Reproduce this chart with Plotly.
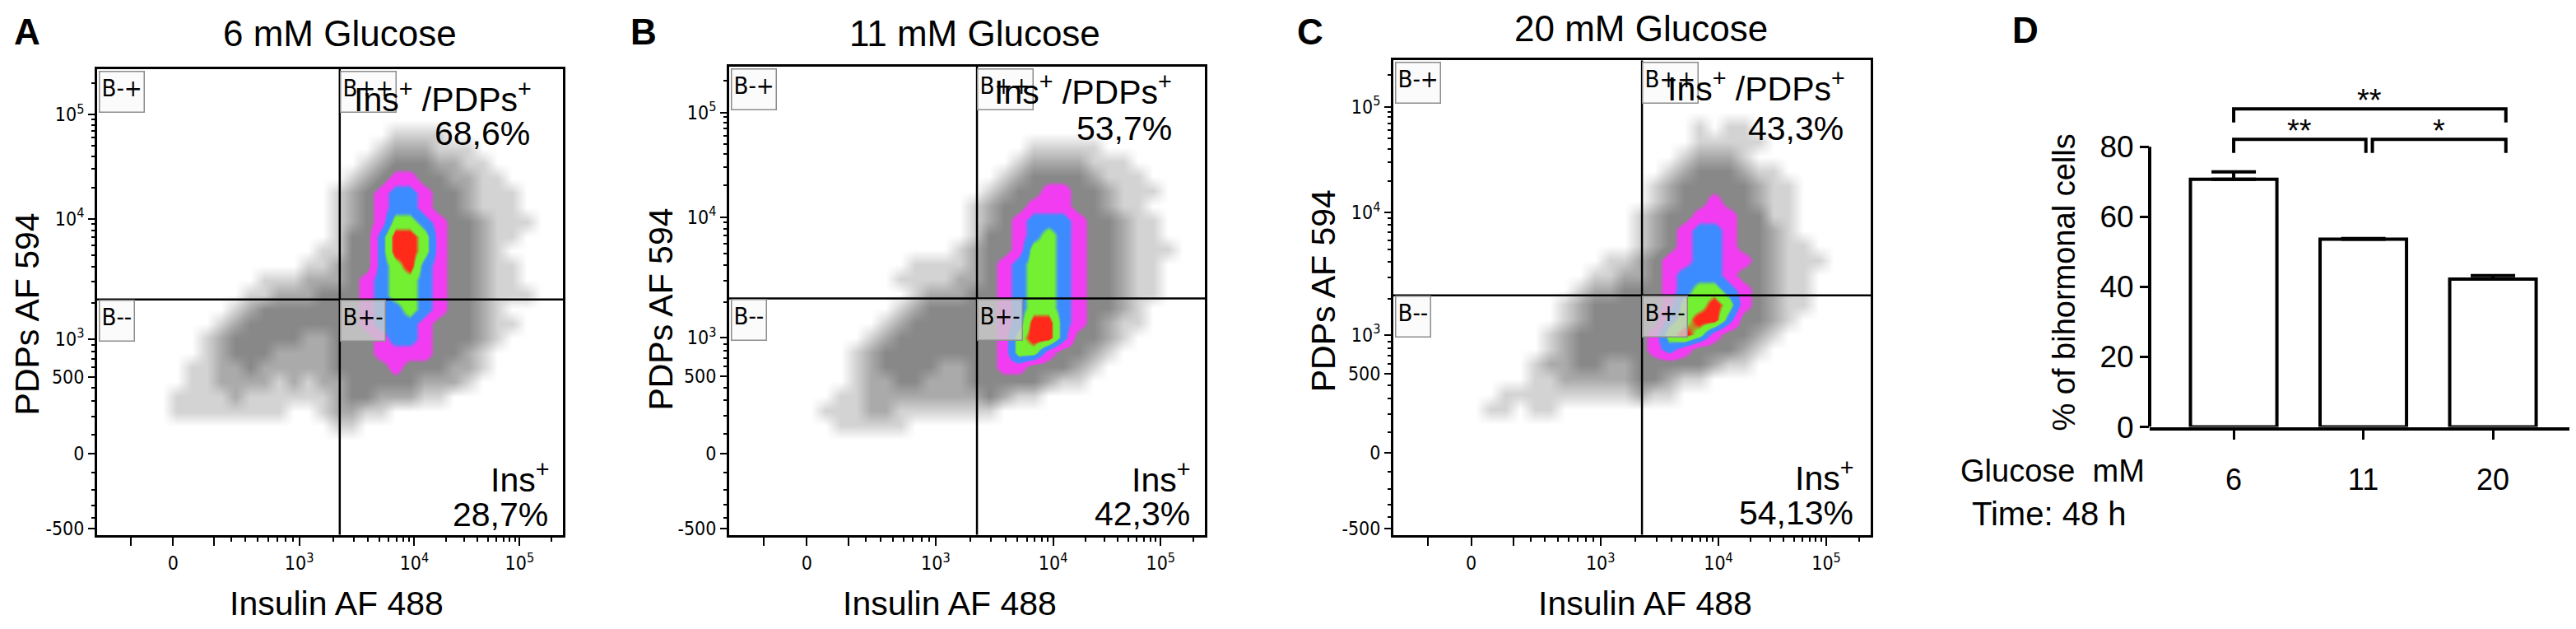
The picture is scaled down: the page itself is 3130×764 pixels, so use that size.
import numpy as np
import plotly.graph_objects as go

W, H = 3130, 764

# ---------------- data ----------------
panel_letters = ["A", "B", "C", "D"]
panel_titles = ["6 mM Glucose", "11 mM Glucose", "20 mM Glucose"]
flow_x_title = "Insulin AF 488"
flow_y_title = "PDPs AF 594"
quadrant_names = ["B-+", "B++", "B--", "B+-"]
upper_right_label = "Ins<sup>+</sup> /PDPs<sup>+</sup>"
lower_right_label = "Ins<sup>+</sup>"
double_positive_pct = ["68,6%", "53,7%", "43,3%"]
insulin_only_pct = ["28,7%", "42,3%", "54,13%"]

# quadrant gates (raw fluorescence units)
gate_insulin = [2270, 2270, 2270]
gate_pdps = [2150, 2135, 2135]

# biexponential axis calibration (value -> fraction of axis length)
x_scale_vals = [-200, 0, 200, 1e3, 1e4, 1e5, 1e6]
x_scale_pos = [0.072, 0.163, 0.251, 0.434, 0.681, 0.907, 1.133]
y_scale_vals = [-500, 0, 500, 1e3, 1e4, 1e5, 1e6]
y_scale_pos = [0.014, 0.174, 0.339, 0.421, 0.679, 0.902, 1.125]

x_major_vals = [-200, 0, 200, 1e3, 1e4, 1e5]
x_major_text = ["", "0", "", "10<sup>3</sup>", "10<sup>4</sup>", "10<sup>5</sup>"]
x_minor_vals = [300, 400, 500, 600, 700, 800, 900,
                2000, 3000, 4000, 5000, 6000, 7000, 8000, 9000,
                20000, 30000, 40000, 50000, 60000, 70000, 80000, 90000, 200000]
y_major_vals = [-500, 0, 500, 1e3, 1e4, 1e5]
y_major_text = ["-500", "0", "500", "10<sup>3</sup>", "10<sup>4</sup>", "10<sup>5</sup>"]
y_minor_vals = [-400, -300, -200, -100, 100, 200, 300, 400, 600, 700, 800, 900,
                2000, 3000, 4000, 5000, 6000, 7000, 8000, 9000,
                20000, 30000, 40000, 50000, 60000, 70000, 80000, 90000, 200000]

# pseudocolour event density on a 32x32 display grid
# (row from bottom, first column, levels: 0 none,1-3 grey,4 magenta,5 blue,6 green,7 red)
density_A = [
    (27, 20, "1111"),
    (26, 19, "1222111"),
    (25, 18, "123332211"),
    (24, 17, "12344332211"),
    (23, 16, "1234554332111"),
    (22, 16, "1234554332111"),
    (21, 16, "12346654332111"),
    (20, 16, "1335776433211"),
    (19, 15, "1133577643321"),
    (18, 14, "112335675433211"),
    (17, 11, "111222345665433211"),
    (16, 10, "11222333456654332111"),
    (15, 9, "1233333334556543321"),
    (14, 8, "123333333345554333211"),
    (13, 7, "123333322333455433321"),
    (12, 7, "12333222233344443321"),
    (11, 6, "112232222233334333221"),
    (10, 6, "11222212122333332221"),
    (9, 5, "1111211111123322211"),
    (8, 5, "111111110012211"),
    (7, 16, "11"),
]
density_B = [
    (26, 20, "11111"),
    (25, 19, "12222111"),
    (24, 18, "1233332111"),
    (23, 17, "123344332111"),
    (22, 16, "123344433211"),
    (21, 16, "1234555433211"),
    (20, 16, "1334565433211"),
    (19, 15, "123346654332111"),
    (18, 12, "11112345665433211"),
    (17, 11, "111122345665433211"),
    (16, 12, "12223345665433211"),
    (15, 11, "12333334566543321"),
    (14, 10, "123333334577543211"),
    (13, 9, "123333333467753321"),
    (12, 8, "123333333346643321"),
    (11, 8, "12333322334433321"),
    (10, 8, "1223322233333211"),
    (9, 7, "11222222223211"),
    (8, 6, "111221111111"),
    (7, 7, "11111"),
]
density_C = [
    (27, 20, "1011"),
    (26, 20, "11111"),
    (25, 19, "12221"),
    (24, 18, "12333211"),
    (23, 17, "1233333211"),
    (22, 17, "1233433211"),
    (21, 16, "12334443311"),
    (20, 16, "12345543321"),
    (19, 16, "123455433211"),
    (18, 14, "112344554432111"),
    (17, 13, "112234555433211"),
    (16, 12, "1223334566543211"),
    (15, 11, "12333334667643211"),
    (14, 11, "1233333567753321"),
    (13, 10, "1233333467643321"),
    (12, 10, "123333345433321"),
    (11, 9, "122332233333211"),
    (10, 9, "112222233211"),
    (9, 7, "111111111211"),
    (8, 6, "11011"),
]
density_grids = [density_A, density_B, density_C]

# bar chart (panel D)
glucose_levels = ["6", "11", "20"]
bihormonal_pct = [70.7, 53.6, 42.2]
bihormonal_sem = [2.1, 0.2, 1.0]
sig_from = [0.0, 0.0, 1.07]
sig_to = [2.1, 1.02, 2.1]
sig_height = [90.8, 82.1, 82.1]
sig_text = ["**", "**", "*"]

# ---------------- styling / layout ----------------
SANS = "Liberation Sans, Arial, sans-serif"
NARROW = "Liberation Sans Narrow, DejaVu Sans Condensed, sans-serif"
N = 32
GREY1, GREY2, GREY3 = "#d3d3d3", "#aaaaaa", "#888888"
MAG, BLUE, GREEN, RED = "#f23cf2", "#3c8cff", "#74f032", "#ff2a1a"
# grey shades blend smoothly; pseudocolour levels are near-stepped bands
colorscale = [
    [0 / 7, "#ffffff"], [1 / 7, GREY1], [2 / 7, GREY2], [3 / 7, GREY3],
    [3.35 / 7, GREY3], [3.65 / 7, MAG], [4.35 / 7, MAG], [4.65 / 7, BLUE],
    [5.35 / 7, BLUE], [5.65 / 7, GREEN], [6.35 / 7, GREEN], [6.65 / 7, RED], [7 / 7, RED],
]

flow_boxes = [(110, 78, 676, 660), (878, 75, 1456, 660), (1685, 67, 2265, 660)]
letter_pos = [(25, 31), (774, 31), (1584, 31), (2453, 29)]
title_pos = [(405, 33), (1176, 33), (1986, 27)]
ytitle_pos = [(25, 384), (795, 378), (1600, 355)]
xtitle_pos = [(401, 745), (1146, 745), (1991, 745)]
# text anchors: (right x, cap-middle y) for the four quadrant texts
ur1_pos = [(640, 113), (1418, 104), (2236, 100)]
ur2_pos = [(638, 158), (1418, 152), (2234, 152)]
lr1_pos = [(661, 588), (1440, 588), (2246, 586)]
lr2_pos = [(660, 634), (1440, 633), (2246, 632)]


def px_x(px):
    return px / W


def px_y(py):
    return 1 - py / H


def biex(v, scale_vals, scale_pos, c=300.0):
    u = np.arcsinh(np.asarray(v, dtype=float) / c)
    ua = np.arcsinh(np.asarray(scale_vals, dtype=float) / c)
    return np.interp(u, ua, scale_pos)


def build_grid(rows):
    z = np.zeros((N, N))
    for r, start, levels in rows:
        for k, ch in enumerate(levels):
            z[r, start + k] = int(ch)
    return z


fig = go.Figure()
annotations = []
shapes = []
axes = {}

for i in range(3):
    sfx = "" if i == 0 else str(i + 1)
    xn, yn = "x" + sfx, "y" + sfx
    bx0, by0, bx1, by1 = flow_boxes[i]
    fig.add_trace(go.Heatmap(
        z=build_grid(density_grids[i]), x0=0.5 / N, dx=1 / N, y0=0.5 / N, dy=1 / N,
        zmin=0, zmax=7, colorscale=colorscale, zsmooth="best", showscale=False,
        hoverinfo="skip", xaxis=xn, yaxis=yn))
    gx = float(biex(gate_insulin[i], x_scale_vals, x_scale_pos))
    gy = float(biex(gate_pdps[i], y_scale_vals, y_scale_pos))
    for (xa, xb, ya, yb) in [(gx, gx, 0, 1), (0, 1, gy, gy)]:
        shapes.append(dict(type="line", xref=xn, yref=yn, x0=xa, x1=xb, y0=ya, y1=yb,
                           line=dict(color="black", width=2.5), layer="above"))
    common = dict(range=[0, 1], showgrid=False, zeroline=False, showline=True, mirror=True,
                  linecolor="black", linewidth=3, ticks="outside", ticklen=10, tickwidth=2,
                  tickcolor="black", tickmode="array", fixedrange=True,
                  tickfont=dict(family=NARROW, size=23, color="black"))
    axes["xaxis" + sfx] = dict(
        common, domain=[px_x(bx0), px_x(bx1)], anchor=yn,
        tickvals=list(biex(x_major_vals, x_scale_vals, x_scale_pos)), ticktext=x_major_text,
        ticklabelstandoff=2,
        minor=dict(tickmode="array", tickvals=list(biex(x_minor_vals, x_scale_vals, x_scale_pos)),
                   ticks="outside", ticklen=5, tickwidth=1.5, tickcolor="black"))
    axes["yaxis" + sfx] = dict(
        common, domain=[px_y(by1), px_y(by0)], anchor=xn, ticklen=8,
        tickvals=list(biex(y_major_vals, y_scale_vals, y_scale_pos)), ticktext=y_major_text,
        minor=dict(tickmode="array", tickvals=list(biex(y_minor_vals, y_scale_vals, y_scale_pos)),
                   ticks="outside", ticklen=4, tickwidth=1.5, tickcolor="black"))

    # quadrant name boxes (drawn first so the quadrant texts sit on top)
    corners = [(0.003, 0.997), (gx, 0.997), (0.003, gy), (gx, gy)]
    for qn, (name, (qx, qy)) in enumerate(zip(quadrant_names, corners)):
        annotations.append(dict(
            xref=xn, yref=yn, x=qx, y=qy, text=name, showarrow=False,
            xanchor="left", yanchor="top", align="left", valign="top",
            height=44, borderpad=2, borderwidth=1.5, bordercolor="#8c8c8c",
            bgcolor="rgba(205,205,205,0.8)" if qn == 3 else "rgba(250,250,250,0.85)",
            font=dict(family=NARROW, size=29, color="black")))
    # quadrant texts
    for (txt, pos) in [(upper_right_label, ur1_pos[i]), (double_positive_pct[i], ur2_pos[i]),
                       (lower_right_label, lr1_pos[i]), (insulin_only_pct[i], lr2_pos[i])]:
        annotations.append(dict(xref="paper", yref="paper", x=px_x(pos[0]), y=px_y(pos[1]),
                                text=txt, showarrow=False, xanchor="right", yanchor="middle",
                                font=dict(family=SANS, size=41, color="black")))
    # titles
    annotations.append(dict(xref="paper", yref="paper", x=px_x(title_pos[i][0]), y=px_y(title_pos[i][1]),
                            text=panel_titles[i], showarrow=False, xanchor="center", yanchor="middle",
                            font=dict(family=SANS, size=44, color="black")))
    annotations.append(dict(xref="paper", yref="paper", x=px_x(ytitle_pos[i][0]), y=px_y(ytitle_pos[i][1]),
                            text=flow_y_title, showarrow=False, textangle=-90, xanchor="center",
                            yanchor="middle", font=dict(family=SANS, size=41, color="black")))
    annotations.append(dict(xref="paper", yref="paper", x=px_x(xtitle_pos[i][0]), y=px_y(xtitle_pos[i][1]),
                            text=flow_x_title, showarrow=False, xanchor="center", yanchor="middle",
                            font=dict(family=SANS, size=41, color="black")))

for letter, (lx, ly) in zip(panel_letters, letter_pos):
    annotations.append(dict(xref="paper", yref="paper", x=px_x(lx), y=px_y(ly), text="<b>%s</b>" % letter,
                            showarrow=False, xanchor="center", yanchor="middle",
                            font=dict(family=SANS, size=44, color="black")))

# ---------------- panel D ----------------
cats = [0, 1, 2]
fig.add_trace(go.Bar(
    x=cats, y=bihormonal_pct, width=0.667, xaxis="x4", yaxis="y4",
    marker=dict(color="white", line=dict(color="black", width=4)),
    error_y=dict(type="data", symmetric=False, array=bihormonal_sem, arrayminus=[0, 0, 0],
                 color="black", thickness=4, width=27),
    hoverinfo="skip"))

y0_px, y80_px = 525.0, 175.0
ytop_val = 95
ytop_px = y0_px - ytop_val * (y0_px - y80_px) / 80
axes["xaxis4"] = dict(domain=[px_x(2604), px_x(3125)], range=[-0.648, 2.66], anchor="y4",
                      tickmode="array", tickvals=cats, ticktext=glucose_levels,
                      ticks="outside", ticklen=11, tickwidth=3, tickcolor="black",
                      showline=True, linecolor="black", linewidth=4, showgrid=False, zeroline=False,
                      tickfont=dict(family=SANS, size=36, color="black"), ticklabelstandoff=18,
                      fixedrange=True)
axes["yaxis4"] = dict(domain=[px_y(y0_px), px_y(ytop_px)], range=[0, ytop_val], anchor="x4",
                      tickmode="array", tickvals=[0, 20, 40, 60, 80],
                      ticks="outside", ticklen=11, tickwidth=3, tickcolor="black",
                      showline=False, showgrid=False, zeroline=False,
                      tickfont=dict(family=SANS, size=37, color="black"), fixedrange=True)
shapes.append(dict(type="line", xref="x4 domain", yref="y4", x0=0, x1=0, y0=0, y1=80,
                   line=dict(color="black", width=4)))
leg = 3.9
for a, b, h, t in zip(sig_from, sig_to, sig_height, sig_text):
    shapes.append(dict(type="path", xref="x4", yref="y4",
                       path="M %f,%f L %f,%f L %f,%f L %f,%f" % (a, h - leg, a, h, b, h, b, h - leg),
                       line=dict(color="black", width=4)))
    annotations.append(dict(xref="x4", yref="y4", x=(a + b) / 2, y=h + 2.3, text=t, showarrow=False,
                            xanchor="center", yanchor="middle",
                            font=dict(family=SANS, size=38, color="black")))

annotations.append(dict(xref="paper", yref="paper", x=px_x(2500), y=px_y(345), text="% of bihormonal cells",
                        showarrow=False, textangle=-90, xanchor="center", yanchor="middle",
                        font=dict(family=SANS, size=38, color="black")))
annotations.append(dict(xref="paper", yref="paper", x=px_x(2600), y=px_y(580), text="Glucose\u00a0 mM",
                        showarrow=False, xanchor="right", yanchor="middle",
                        font=dict(family=SANS, size=38, color="black")))
annotations.append(dict(xref="paper", yref="paper", x=px_x(2386), y=px_y(633), text="Time: 48 h",
                        showarrow=False, xanchor="left", yanchor="middle",
                        font=dict(family=SANS, size=40, color="black")))

fig.update_layout(width=W, height=H, margin=dict(l=0, r=0, t=0, b=0),
                  paper_bgcolor="white", plot_bgcolor="white", showlegend=False,
                  annotations=annotations, shapes=shapes, **axes)
fig.write_html("out.html")
